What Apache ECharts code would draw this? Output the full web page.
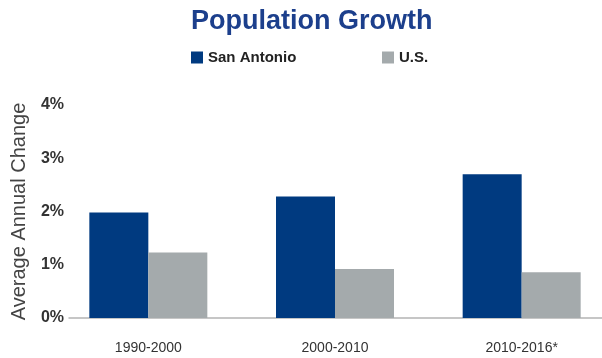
<!DOCTYPE html>
<html>
<head>
<meta charset="utf-8">
<script src="https://cdn.jsdelivr.net/npm/echarts@6/dist/echarts.min.js"></script>
<style>
  html, body { margin: 0; padding: 0; background: #fff; overflow: hidden; }
  /* canvas runs a little past the window so the last category band is full width */
  #chart { width: 615px; height: 358px; }
</style>
</head>
<body>
<div id="chart"></div>
<script>
// Population growth: average annual change, San Antonio vs. U.S.
const periods = ['1990-2000', '2000-2010', '2010-2016*'];
const sanAntonio = [1.98, 2.28, 2.70];
const us = [1.23, 0.92, 0.86];
const yTicks = [0, 1, 2, 3, 4];

const FONT = '"Liberation Sans", Arial, Helvetica, sans-serif';
const NAVY = '#003a80';
const GREY = '#a4aaac';

const chart = echarts.init(document.getElementById('chart'), null, { renderer: 'canvas' });

chart.setOption({
  backgroundColor: '#ffffff',
  animation: false,
  title: {
    text: 'Population Growth',
    left: 186,
    top: 3,
    textStyle: { fontFamily: FONT, fontSize: 27, fontWeight: 'bold', color: '#1c3f8c' }
  },
  legend: [
    {
      data: ['San Antonio'],
      left: 186, top: 45,
      icon: 'rect', itemWidth: 12, itemHeight: 12,
      textStyle: { fontFamily: FONT, fontSize: 15, fontWeight: 'bold', color: '#222' }
    },
    {
      data: ['U.S.'],
      left: 377, top: 45,
      icon: 'rect', itemWidth: 12, itemHeight: 12,
      textStyle: { fontFamily: FONT, fontSize: 15, fontWeight: 'bold', color: '#222' }
    }
  ],
  grid: [
    // bars
    { left: 55, top: 105, width: 560, height: 213 },
    // axis line and value labels
    { left: 69, top: 105, width: 533, height: 213 }
  ],
  xAxis: [
    {
      type: 'category', gridIndex: 0, data: periods,
      axisLine: { show: false }, axisTick: { show: false },
      axisLabel: { margin: 23, fontFamily: FONT, fontSize: 14, color: '#333' }
    },
    {
      type: 'category', gridIndex: 1, data: periods,
      axisLine: { show: true, lineStyle: { color: '#b4b4b4', width: 1.5 } },
      axisTick: { show: false }, axisLabel: { show: false }
    }
  ],
  yAxis: [
    {
      type: 'value', gridIndex: 0, min: 0, max: 4, interval: 1,
      show: false, splitLine: { show: false }
    },
    {
      type: 'value', gridIndex: 1, min: yTicks[0], max: yTicks[yTicks.length - 1], interval: 1,
      axisLine: { show: false }, axisTick: { show: false }, splitLine: { show: false },
      axisLabel: {
        margin: 5, fontFamily: FONT, fontSize: 16, fontWeight: 'bold', color: '#333',
        formatter: v => v + '%'
      },
      name: 'Average Annual Change',
      nameLocation: 'middle', nameGap: 34,
      nameTextStyle: { fontFamily: FONT, fontSize: 20, color: '#444' }
    }
  ],
  series: [
    {
      name: 'San Antonio', type: 'bar', xAxisIndex: 0, yAxisIndex: 0,
      data: sanAntonio, barWidth: 59, barGap: '0%',
      itemStyle: { color: NAVY }
    },
    {
      name: 'U.S.', type: 'bar', xAxisIndex: 0, yAxisIndex: 0,
      data: us, barWidth: 59, barGap: '0%',
      itemStyle: { color: GREY }
    }
  ]
});
</script>
</body>
</html>
